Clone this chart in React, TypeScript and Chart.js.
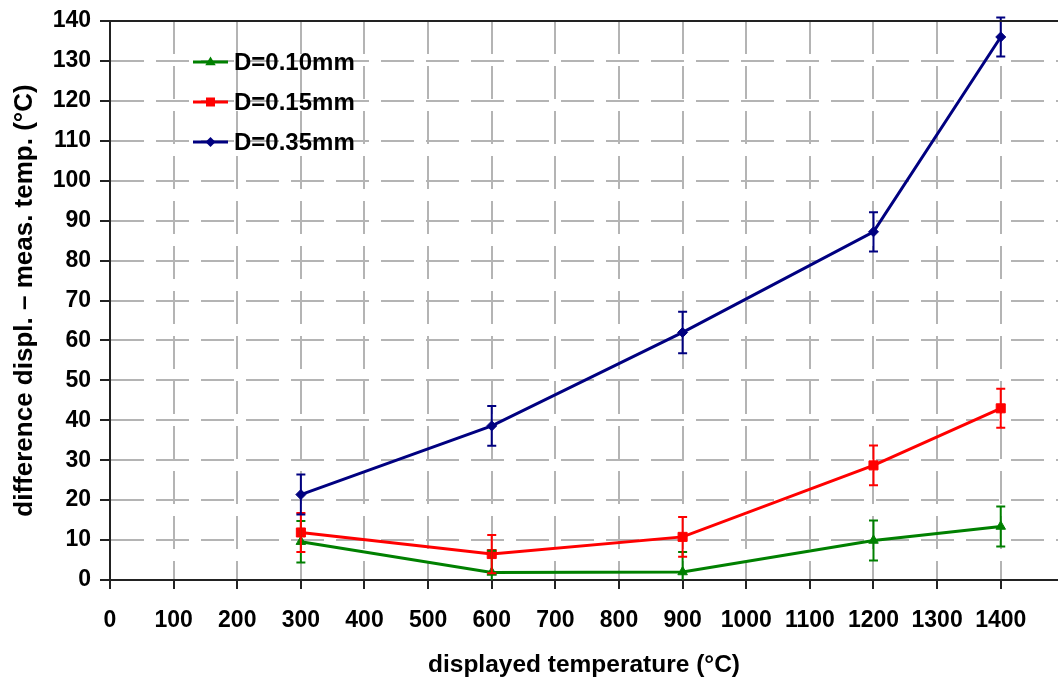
import React, { useEffect, useRef } from "react";
import { Chart, registerables } from "chart.js";

Chart.register(...registerables);

// ---- data ----
const temperatures = [300, 600, 900, 1200, 1400];
const seriesLabels = ["D=0.10mm", "D=0.15mm", "D=0.35mm"];
const d010 = [9.6, 1.9, 2.0, 9.9, 13.4];
const d015 = [11.9, 6.5, 10.8, 28.7, 43.0];
const d035 = [21.4, 38.6, 62.0, 87.2, 136.0];
const errD010 = [5.2, 5.4, 5.0, 5.0, 5.0];
const errD015 = [4.9, 4.8, 5.0, 5.0, 4.9];
const errD035 = [5.0, 5.0, 5.2, 4.9, 4.9];
const xTickValues = [0, 100, 200, 300, 400, 500, 600, 700, 800, 900, 1000, 1100, 1200, 1300, 1400];
const yTickValues = [0, 10, 20, 30, 40, 50, 60, 70, 80, 90, 100, 110, 120, 130, 140];
const xTitle = "displayed temperature (°C)";
const yTitle = "difference displ. – meas. temp. (°C)";

const FONT = "'Liberation Sans', Arial, sans-serif";
const GREEN = "#008000";
const RED = "#ff0000";
const BLUE = "#000080";
const GRID = "#b4b4b4";
const AXIS = "#222222";

const errorBarPlugin = {
  id: "errorBars",
  afterDatasetsDraw(chart: any) {
    const ctx = chart.ctx;
    const yScale = chart.scales.y;
    chart.data.datasets.forEach((ds: any, di: number) => {
      const meta = chart.getDatasetMeta(di);
      const errs: number[] = ds.errors || [];
      ctx.save();
      ctx.strokeStyle = ds.borderColor;
      ctx.lineWidth = 2;
      meta.data.forEach((pt: any, i: number) => {
        const v = ds.data[i].y;
        const e = errs[i];
        if (e == null) return;
        const lowV = v - e;
        const top = yScale.getPixelForValue(v + e);
        const bot = yScale.getPixelForValue(Math.max(0, lowV));
        const x = pt.x;
        ctx.beginPath();
        ctx.moveTo(x, top);
        ctx.lineTo(x, bot);
        ctx.moveTo(x - 4.5, top);
        ctx.lineTo(x + 4.5, top);
        if (lowV >= 0) {
          ctx.moveTo(x - 4.5, bot);
          ctx.lineTo(x + 4.5, bot);
        }
        ctx.stroke();
      });
      ctx.restore();
    });
  },
};

const frameLegendPlugin = {
  id: "frameLegend",
  afterDraw(chart: any) {
    const ctx = chart.ctx;
    const { left, right, top } = chart.chartArea;
    ctx.save();
    ctx.strokeStyle = AXIS;
    ctx.lineWidth = 2;
    ctx.beginPath();
    ctx.moveTo(left, top);
    ctx.lineTo(right, top);
    ctx.stroke();

    // legend
    const rows = [62, 102, 142];
    chart.data.datasets.forEach((ds: any, i: number) => {
      const y = rows[i];
      ctx.strokeStyle = ds.borderColor;
      ctx.lineWidth = 3;
      ctx.beginPath();
      ctx.moveTo(193, y);
      ctx.lineTo(228, y);
      ctx.stroke();
      ctx.fillStyle = ds.borderColor;
      const cx = 210.5;
      ctx.beginPath();
      if (ds.pointStyle === "triangle") {
        const r = 5.5;
        ctx.moveTo(cx, y - r);
        ctx.lineTo(cx + r * 0.95, y + r * 0.6);
        ctx.lineTo(cx - r * 0.95, y + r * 0.6);
        ctx.closePath();
      } else if (ds.pointStyle === "rect") {
        ctx.rect(cx - 4.5, y - 4.5, 9, 9);
      } else {
        const r = 5;
        ctx.moveTo(cx, y - r);
        ctx.lineTo(cx + r, y);
        ctx.lineTo(cx, y + r);
        ctx.lineTo(cx - r, y);
        ctx.closePath();
      }
      ctx.fill();
      ctx.fillStyle = "#000";
      ctx.font = `bold 24px ${FONT}`;
      ctx.textAlign = "left";
      ctx.textBaseline = "middle";
      ctx.fillText(ds.label, 234, y + 1);
    });
    ctx.restore();
  },
};

export default function App() {
  const canvasRef = useRef<HTMLCanvasElement | null>(null);

  useEffect(() => {
    const canvas = canvasRef.current;
    if (!canvas) return;
    const mk = (vals: number[]) => temperatures.map((t, i) => ({ x: t, y: vals[i] }));
    const tickFont = { family: FONT, size: 23, weight: "bold" as const };

    const chart = new Chart(canvas, {
      type: "line",
      data: {
        datasets: [
          {
            label: seriesLabels[0],
            data: mk(d010),
            borderColor: GREEN,
            backgroundColor: GREEN,
            pointStyle: "triangle",
            pointRadius: 5.5,
            pointBorderWidth: 1,
            borderWidth: 3,
            tension: 0,
            errors: errD010,
          } as any,
          {
            label: seriesLabels[1],
            data: mk(d015),
            borderColor: RED,
            backgroundColor: RED,
            pointStyle: "rect",
            pointRadius: 6.4,
            pointBorderWidth: 1,
            borderWidth: 3,
            tension: 0,
            errors: errD015,
          } as any,
          {
            label: seriesLabels[2],
            data: mk(d035),
            borderColor: BLUE,
            backgroundColor: BLUE,
            pointStyle: "rectRot",
            pointRadius: 5,
            pointBorderWidth: 1,
            borderWidth: 3,
            tension: 0,
            errors: errD035,
          } as any,
        ],
      },
      options: {
        responsive: false,
        animation: false,
        devicePixelRatio: 1,
        layout: { autoPadding: false, padding: { top: 21, left: 0, right: 0, bottom: 0 } },
        plugins: {
          legend: { display: false },
          tooltip: { enabled: false },
        },
        scales: {
          x: {
            type: "linear",
            min: 0,
            max: 1490,
            afterBuildTicks: (s: any) => {
              s.ticks = xTickValues.map((v) => ({ value: v }));
            },
            afterFit: (s: any) => {
              s.height = 104;
              s.paddingLeft = 0;
              s.paddingRight = 0;
            },
            ticks: {
              font: tickFont,
              color: "#000",
              padding: 18,
              maxRotation: 0,
              autoSkip: false,
              callback: (v: any) => String(v),
            },
            grid: {
              color: GRID,
              lineWidth: 2,
              tickColor: AXIS,
              tickWidth: 2,
              tickLength: 9,
            },
            border: { display: true, color: AXIS, width: 2, dash: [33, 12] },
            title: {
              display: true,
              text: xTitle,
              font: { family: FONT, size: 24.5, weight: "bold" },
              color: "#000",
              padding: { top: 0, bottom: 4 },
            },
          },
          y: {
            type: "linear",
            min: 0,
            max: 140,
            afterBuildTicks: (s: any) => {
              s.ticks = yTickValues.map((v) => ({ value: v }));
            },
            afterFit: (s: any) => {
              s.width = 110;
              s.paddingTop = 0;
              s.paddingBottom = 0;
            },
            ticks: {
              font: tickFont,
              color: "#000",
              padding: 9,
              autoSkip: false,
              callback: (v: any) => String(v),
            },
            grid: {
              color: GRID,
              lineWidth: 2,
              tickColor: AXIS,
              tickWidth: 2,
              tickLength: 10,
            },
            border: { display: true, color: AXIS, width: 2, dash: [33, 12] },
            title: {
              display: true,
              text: yTitle,
              font: { family: FONT, size: 26, weight: "bold" },
              color: "#000",
              padding: { top: 9, bottom: 0 },
            },
          },
        },
      } as any,
      plugins: [errorBarPlugin, frameLegendPlugin],
    });
    return () => chart.destroy();
  }, []);

  return (
    <div style={{ position: "fixed", left: 0, top: 0, width: 1058, height: 684, background: "#fff" }}>
      <canvas ref={canvasRef} width={1058} height={684} style={{ width: 1058, height: 684, display: "block" }} />
    </div>
  );
}
